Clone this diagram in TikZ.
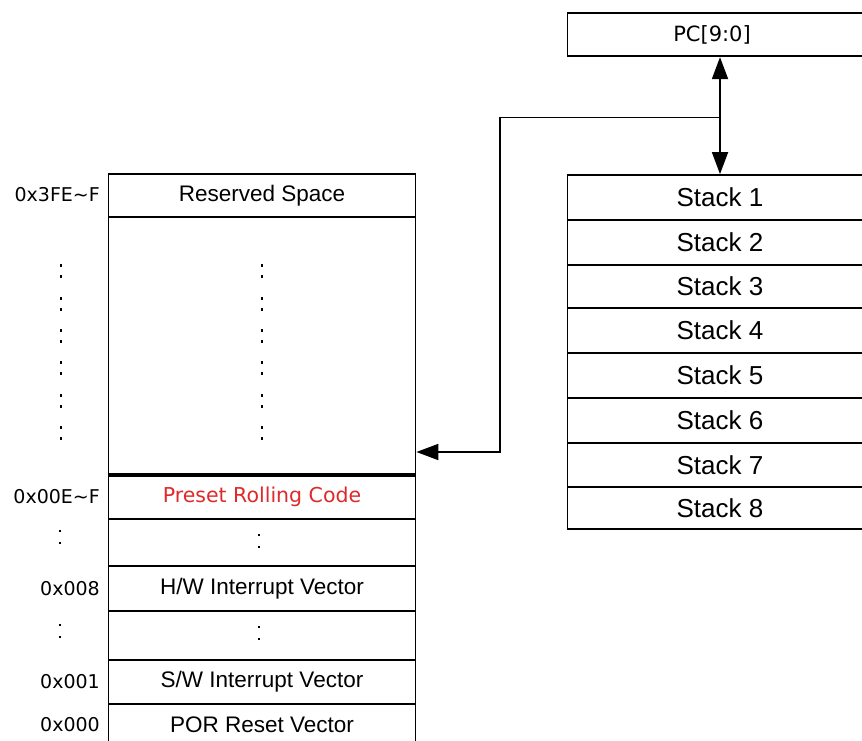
\documentclass[tikz,border=0pt]{standalone}
\usepackage{fontspec}
\setmainfont{Liberation Sans}
\newfontfamily\tahomaish{DejaVu Sans}
\usetikzlibrary{arrows.meta}
\definecolor{presetred}{RGB}{222,42,42}
\tikzset{
  memrow/.style={draw, line width=1.8pt, inner sep=0pt, minimum width=307pt,
    font=\fontsize{22.5}{25}\selectfont},
  stackrow/.style={draw, line width=1.8pt, inner sep=0pt, minimum width=305pt,
    font=\fontsize{26}{29}\selectfont},
  addr/.style={anchor=east, inner sep=0pt, font=\tahomaish\fontsize{19}{21}\selectfont},
  dot/.style={fill=black, inner sep=0pt, minimum size=2.8pt, rectangle},
  conn/.style={line width=1.8pt},
  tip/.style={-{Triangle[length=22pt,width=16pt]}},
}
\begin{document}
\begin{tikzpicture}[x=1pt,y=-1pt]
\useasboundingbox (0,0) rectangle (862,740);
\fill[white] (0,0) rectangle (862,740);
\begin{scope}
\clip (0,0) rectangle (862,740);
% memory map
\node[memrow, minimum height=43pt] (r0) at (262,195.5) {Reserved Space};
\node[memrow, minimum height=257pt] (r1) at (262,345.5) {};
\node[memrow, minimum height=45pt, text=presetred, font=\tahomaish\fontsize{20.5}{23}\selectfont] (r2) at (262,496.5) {Preset Rolling Code};
\node[memrow, minimum height=47pt] (r3) at (262,542.5) {};
\node[memrow, minimum height=45pt] (r4) at (262,588.5) {H/W Interrupt Vector};
\node[memrow, minimum height=49pt] (r5) at (262,635.5) {};
\node[memrow, minimum height=44pt] (r6) at (262,682) {S/W Interrupt Vector};
\node[memrow, minimum height=42pt] (r7) at (262,725) {POR Reset Vector};
\draw[line width=3.2pt] (r1.south west) -- (r1.south east);
% addresses
\node[addr] (a0) at (100,195) {0x3FE\char"7E F};
\node[addr] (a2) at (100,496.5) {0x00E\char"7E F};
\node[addr] (a4) at (100,588.5) {0x008};
\node[addr] (a6) at (100,682) {0x001};
\node[addr] (a7) at (100,725) {0x000};
% dots in big region
\foreach \y [count=\i] in {271,304,336,368,401,433}{
  \node[dot] (cm\i a) at (262,\y-5.5) {};
  \node[dot] (cm\i b) at (262,\y+5.5) {};
  \node[dot] (cl\i a) at (61,\y-5.5) {};
  \node[dot] (cl\i b) at (61,\y+5.5) {};
}
\foreach \y/\ly [count=\i] in {541/537,633/631}{
  \node[dot] (dm\i a) at (259,\y-6) {};
  \node[dot] (dm\i b) at (259,\y+6) {};
  \node[dot] (dl\i a) at (60,\ly-6) {};
  \node[dot] (dl\i b) at (60,\ly+6) {};
}
% PC
\node[draw, line width=1.8pt, inner sep=0pt, minimum width=305pt, minimum height=43.5pt,
  font=\tahomaish\fontsize{21}{23}\selectfont] (pc) at (720,34.5) {PC[9:0]\rule{16pt}{0pt}};
% stack
\foreach \t/\b [count=\i] in {175/220,220/265,265/308,308/353,353/398,398/443,443/487,487/529}{
  \node[stackrow, minimum height=\b pt-\t pt] (s\i) at (720,{(\t+\b)/2}) {Stack \i};
}
% connectors
\coordinate (j) at (720,117.5);
\coordinate (k1) at (500,117.5);
\coordinate (k2) at (500,452);
\draw[conn, tip] (j) -- (pc.south);
\draw[conn, tip] (j) -- (s1.north);
\draw[conn, tip] (j) -- (k1) -- (k2) -- (k2 -| r1.east);
\end{scope}
\end{tikzpicture}
\end{document}
